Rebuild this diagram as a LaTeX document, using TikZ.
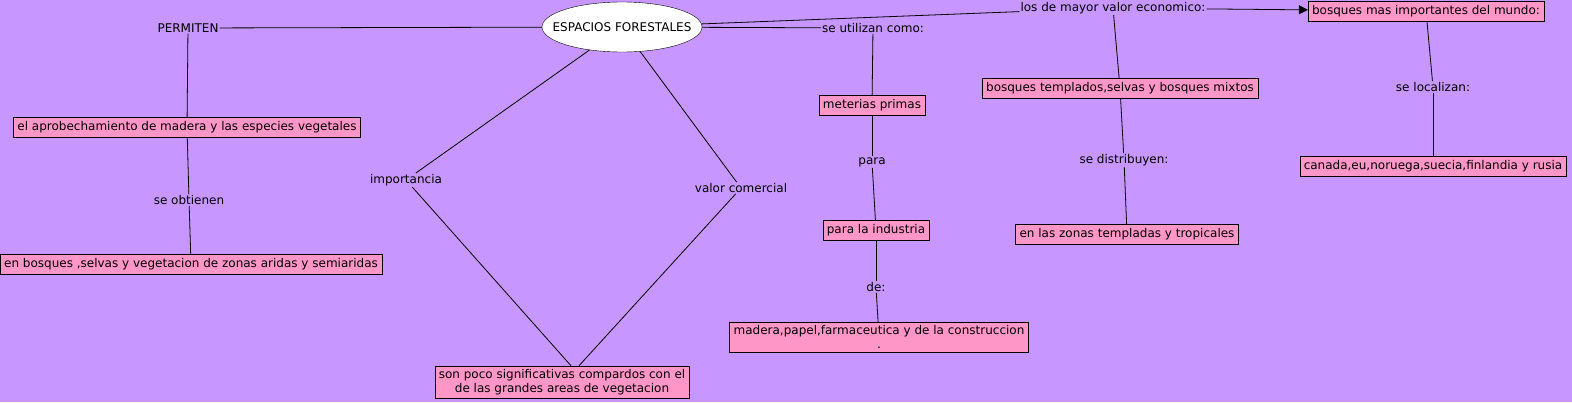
\documentclass[tikz,border=0pt]{standalone}
\usepackage{fontspec}
\setmainfont{DejaVu Sans}
\usetikzlibrary{shapes.geometric,arrows.meta}
\definecolor{bgviolet}{RGB}{200,150,255}
\definecolor{boxpink}{RGB}{255,150,200}
\begin{document}
\begin{tikzpicture}[
    x=1pt, y=-1pt,
    every node/.style={font=\fontsize{12}{14.5}\selectfont},
    concept/.style={ellipse, draw, fill=white, minimum width=160pt, minimum height=50pt, inner xsep=-20pt, inner ysep=0pt},
    box/.style={rectangle, draw, fill=boxpink, align=center, inner xsep=4pt, inner ysep=3pt, minimum height=20pt},
    lbl/.style={inner sep=1pt},
    link/.style={line width=0.8pt},
    arrow/.style={-{Triangle[length=9pt,width=9pt]}, line width=0.8pt}
]
\useasboundingbox (0,0) rectangle (1572,402);
\fill[bgviolet] (0,0) rectangle (1572,402);

\node[concept] (esp) at (622,27) {ESPACIOS FORESTALES};
\node[lbl] (permiten) at (188,28) {PERMITEN};
\node[box] (aprob) at (187,127) {el aprobechamiento de madera y las especies vegetales};
\node[lbl] (obtienen) at (189,200) {se obtienen};
\node[box] (enbosques) at (191,264) {en bosques ,selvas y vegetacion de zonas aridas y semiaridas};
\node[lbl] (importancia) at (406,180) {importancia};
\node[lbl] (valor) at (741,188) {valor comercial};
\node[box] (poco) at (562,382) {son poco significativas compardos con el\\de las grandes areas de vegetacion};
\node[lbl] (utilizan) at (873,28) {se utilizan como:};
\node[box] (materias) at (872,105) {meterias primas};
\node[lbl] (para) at (872,162) {para};
\node[box] (industria) at (876,230) {para la industria};
\node[lbl] (de) at (876,287) {de:};
\node[box] (madera) at (879,337) {madera,papel,farmaceutica y de la construccion\\.};
\node[lbl] (mayor) at (1113,8) {los de mayor valor economico:};
\node[box] (templados) at (1120,88) {bosques templados,selvas y bosques mixtos};
\node[lbl] (distribuyen) at (1124,160) {se distribuyen:};
\node[box] (zonas) at (1127,234) {en las zonas templadas y tropicales};
\node[box] (mundo) at (1426,11) {bosques mas importantes del mundo:};
\node[lbl] (localizan) at (1433,87) {se localizan:};
\node[box] (paises) at (1433,166) {canada,eu,noruega,suecia,finlandia y rusia};

\draw[link] (esp) -- (permiten);
\draw[link] (permiten) -- (aprob);
\draw[link] (aprob) -- (obtienen);
\draw[link] (obtienen) -- (enbosques);
\draw[link] (esp) -- (importancia);
\draw[link] (importancia) -- ([xshift=9pt]poco.north);
\draw[link] (esp) -- (valor);
\draw[link] (valor) -- ([xshift=17pt]poco.north);
\draw[link] (esp) -- (utilizan);
\draw[link] (utilizan) -- (materias);
\draw[link] (materias) -- (para);
\draw[link] (para) -- (industria);
\draw[link] (industria) -- (de);
\draw[link] (de) -- (madera);
\draw[link] (esp) -- (mayor);
\draw[arrow] (mayor) -- (mundo);
\draw[link] (mayor) -- (templados);
\draw[link] (templados) -- (distribuyen);
\draw[link] (distribuyen) -- (zonas);
\draw[link] (mundo) -- (localizan);
\draw[link] (localizan) -- (paises);
\end{tikzpicture}
\end{document}
